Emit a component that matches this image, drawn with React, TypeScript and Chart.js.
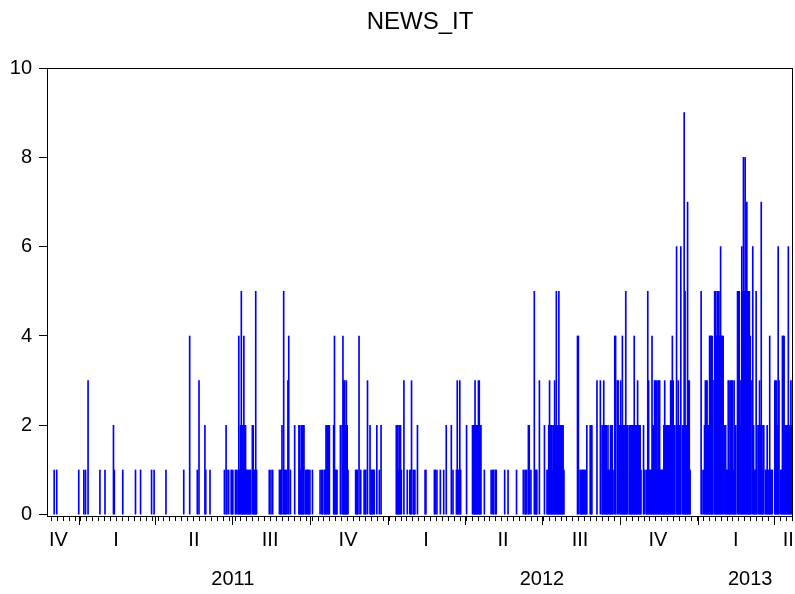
import React, { useEffect, useRef } from 'react';
import { Chart, registerables } from 'chart.js';

Chart.register(...registerables);

const FONT = "'Liberation Sans', Arial, Helvetica, sans-serif";

// Daily observations of NEWS_IT, one array per calendar quarter (first entry = segment start date)
const segmentStarts = [
  '2010-11-25', '2011-01-01', '2011-04-01', '2011-07-01', '2011-10-01', '2012-01-01',
  '2012-04-01', '2012-07-01', '2012-10-01', '2013-01-01', '2013-04-01',
];
const lastDay = '2013-04-23';

const news2010q4 = [
  0, 0, 0, 0, 0, 0, 0, 0, 1, 0,
  0, 1, 0, 0, 0, 0, 0, 0, 0, 0,
  0, 0, 0, 0, 0, 0, 0, 0, 0, 0,
  0, 0, 0, 0, 0, 0, 0,
];
const news2011q1 = [
  1, 0, 0, 0, 0, 0, 1, 0, 1, 0,
  0, 3, 0, 0, 0, 0, 0, 0, 0, 0,
  0, 0, 0, 0, 0, 1, 0, 0, 0, 0,
  0, 1, 0, 0, 0, 0, 0, 0, 0, 0,
  0, 2, 1, 0, 0, 0, 0, 0, 0, 0,
  0, 0, 1, 0, 0, 0, 0, 0, 0, 0,
  0, 0, 0, 0, 0, 0, 0, 1, 0, 0,
  0, 0, 0, 1, 0, 0, 0, 0, 0, 0,
  0, 0, 0, 0, 0, 0, 1, 0, 0, 1,
];
const news2011q2 = [
  0, 0, 0, 0, 0, 0, 0, 0, 0, 0,
  0, 0, 0, 1, 0, 0, 0, 0, 0, 0,
  0, 0, 0, 0, 0, 0, 0, 0, 0, 0,
  0, 0, 0, 0, 1, 0, 0, 0, 0, 0,
  0, 4, 0, 0, 0, 0, 0, 0, 0, 0,
  1, 0, 3, 0, 0, 0, 0, 0, 0, 2,
  1, 0, 0, 0, 0, 1, 0, 0, 0, 0,
  0, 0, 0, 0, 0, 0, 0, 0, 0, 0,
  0, 0, 1, 0, 2, 1, 0, 1, 0, 0,
  1,
];
const news2011q3 = [
  1, 1, 0, 0, 1, 1, 0, 1, 4, 1,
  2, 5, 2, 2, 4, 2, 2, 1, 1, 1,
  1, 1, 1, 0, 2, 2, 1, 1, 5, 1,
  0, 0, 0, 0, 0, 0, 0, 0, 0, 0,
  0, 0, 0, 0, 1, 0, 1, 0, 1, 0,
  0, 0, 0, 0, 0, 0, 1, 1, 1, 2,
  0, 5, 1, 1, 1, 0, 3, 4, 0, 1,
  0, 0, 0, 0, 2, 0, 0, 0, 0, 2,
  2, 1, 2, 2, 2, 2, 0, 1, 1, 1,
  1, 1,
];
const news2011q4 = [
  1, 0, 0, 1, 0, 0, 0, 0, 0, 0,
  0, 0, 1, 0, 1, 1, 0, 1, 1, 2,
  2, 2, 2, 2, 0, 0, 0, 0, 2, 4,
  1, 1, 1, 0, 0, 0, 2, 0, 2, 4,
  3, 3, 2, 3, 2, 1, 0, 0, 0, 0,
  0, 0, 0, 0, 1, 1, 1, 0, 4, 0,
  1, 0, 0, 0, 1, 1, 1, 0, 3, 0,
  0, 2, 1, 1, 1, 1, 1, 0, 0, 2,
  0, 0, 1, 0, 2, 0, 0, 0, 0, 0,
  0, 0,
];
const news2012q1 = [
  0, 0, 0, 0, 0, 0, 0, 0, 0, 0,
  2, 2, 2, 1, 2, 2, 1, 0, 0, 3,
  0, 0, 0, 1, 0, 0, 1, 1, 3, 0,
  1, 1, 1, 0, 0, 2, 0, 0, 0, 0,
  0, 0, 0, 0, 1, 1, 0, 0, 0, 0,
  0, 0, 0, 0, 0, 1, 1, 0, 1, 0,
  0, 0, 1, 0, 0, 0, 1, 0, 0, 2,
  0, 0, 0, 0, 0, 2, 0, 1, 0, 0,
  0, 1, 3, 1, 1, 3, 1, 0, 0, 0,
  0,
];
const news2012q2 = [
  0, 0, 2, 0, 0, 0, 0, 0, 0, 2,
  2, 2, 3, 2, 2, 2, 3, 3, 2, 2,
  0, 0, 0, 1, 0, 0, 0, 0, 0, 0,
  0, 1, 0, 1, 1, 0, 1, 1, 0, 0,
  0, 0, 0, 0, 0, 0, 0, 1, 0, 0,
  0, 1, 0, 0, 0, 0, 0, 0, 0, 0,
  0, 1, 0, 0, 0, 0, 0, 0, 0, 1,
  0, 1, 1, 1, 0, 2, 2, 0, 1, 0,
  0, 0, 5, 1, 1, 1, 0, 0, 3, 0,
  0,
];
const news2012q3 = [
  0, 0, 0, 2, 0, 0, 1, 1, 2, 3,
  2, 2, 1, 2, 2, 3, 2, 5, 2, 2,
  5, 2, 2, 2, 2, 2, 1, 0, 0, 0,
  0, 0, 0, 0, 0, 0, 0, 0, 0, 0,
  0, 0, 4, 4, 0, 1, 1, 1, 1, 1,
  1, 1, 1, 2, 0, 0, 0, 2, 2, 2,
  0, 0, 0, 0, 0, 3, 0, 0, 0, 3,
  0, 2, 2, 3, 2, 2, 2, 1, 2, 1,
  1, 2, 2, 2, 1, 0, 4, 4, 0, 3,
  3, 0,
];
const news2012q4 = [
  2, 3, 2, 4, 2, 2, 2, 5, 2, 2,
  0, 2, 1, 2, 2, 2, 2, 4, 2, 2,
  2, 3, 2, 2, 2, 1, 0, 0, 2, 1,
  0, 1, 1, 5, 3, 1, 1, 1, 4, 2,
  2, 3, 3, 3, 1, 3, 3, 3, 1, 1,
  1, 1, 2, 3, 2, 2, 2, 2, 2, 2,
  3, 3, 4, 3, 2, 2, 0, 6, 2, 3,
  2, 2, 6, 0, 2, 2, 9, 5, 2, 2,
  7, 3, 3, 1, 0, 0, 0, 0, 0, 0,
  0, 0,
];
const news2013q1 = [
  0, 0, 0, 0, 5, 1, 0, 1, 2, 3,
  3, 3, 2, 2, 4, 4, 4, 4, 3, 0,
  5, 5, 4, 5, 5, 5, 4, 6, 4, 4,
  4, 0, 2, 2, 1, 1, 3, 3, 1, 3,
  3, 3, 1, 3, 2, 2, 0, 5, 5, 5,
  2, 3, 6, 5, 8, 5, 8, 5, 7, 5,
  5, 5, 4, 3, 0, 6, 2, 1, 1, 5,
  2, 0, 2, 3, 2, 7, 1, 2, 2, 0,
  1, 1, 2, 1, 1, 4, 1, 1, 1, 0,
];
const news2013q2 = [
  0, 3, 3, 3, 2, 6, 3, 0, 1, 1,
  4, 4, 4, 2, 2, 2, 2, 6, 2, 2,
  3, 2, 3,
];

// Tick labels
const quarterLabels = ['IV', 'I', 'II', 'III', 'IV', 'I', 'II', 'III', 'IV', 'I', 'II'];
const quarterLabelDates = [
  '2010-12-08', '2011-02-14', '2011-05-17', '2011-08-15', '2011-11-15', '2012-02-15',
  '2012-05-16', '2012-08-15', '2012-11-15', '2013-02-15', '2013-04-18',
];
const yearLabels = ['2011', '2012', '2013'];
const yearLabelDates = ['2011-07-02', '2012-07-01', '2013-03-04'];
const yTicks = [0, 2, 4, 6, 8, 10];

const ORIGIN = Date.UTC(2010, 9, 1);
const toDay = (s: string) => {
  const [y, m, d] = s.split('-').map(Number);
  return Math.round((Date.UTC(y, m - 1, d) - ORIGIN) / 86400000);
};

const segments = [
  news2010q4, news2011q1, news2011q2, news2011q3, news2011q4, news2012q1,
  news2012q2, news2012q3, news2012q4, news2013q1, news2013q2,
];

export default function App() {
  const ref = useRef<HTMLCanvasElement | null>(null);

  useEffect(() => {
    if (!ref.current) return;
    const xMin = toDay(segmentStarts[0]) - 0.5;
    const xMax = toDay(lastDay) + 0.5;

    const points: { x: number; y: number }[] = [];
    segments.forEach((arr, k) => {
      const s = toDay(segmentStarts[k]);
      arr.forEach((v, i) => {
        if (v > 0 && s + i <= xMax) points.push({ x: s + i, y: v });
      });
    });

    // quarter boundaries and weekly (Monday) minor ticks
    const quarterDays: number[] = [];
    for (let y = 2010; y <= 2013; y++) {
      for (const m of [1, 4, 7, 10]) {
        const d = toDay(`${y}-${m}-1`);
        if (d >= xMin && d <= xMax) quarterDays.push(d);
      }
    }
    const weekDays: number[] = [];
    for (let d = 3; d <= xMax; d += 7) if (d >= xMin) weekDays.push(d);

    const framePlugin = {
      id: 'frameTicks',
      afterDraw(chart: any) {
        const { ctx, chartArea: a, scales } = chart;
        const xs = scales.x;
        const L = Math.round(a.left);
        const R = Math.round(a.right);
        const T = Math.round(a.top);
        const B = Math.round(a.bottom);
        ctx.save();
        ctx.strokeStyle = '#000';
        ctx.lineWidth = 1;
        ctx.strokeRect(L + 0.5, T + 0.5, R - L - 1, B - T);
        ctx.beginPath();
        const isQ = new Set(quarterDays);
        weekDays.forEach((d) => {
          if (isQ.has(d)) return;
          const px = Math.round(xs.getPixelForValue(d)) + 0.5;
          ctx.moveTo(px, B);
          ctx.lineTo(px, B + 5);
        });
        ctx.stroke();
        ctx.beginPath();
        quarterDays.forEach((d) => {
          const px = Math.round(xs.getPixelForValue(d)) + 0.5;
          ctx.moveTo(px, B);
          ctx.lineTo(px, B + 9);
        });
        ctx.stroke();
        ctx.restore();
      },
    };

    const noPad = (scale: any, h: number) => {
      scale.height = h;
      scale.paddingLeft = 0;
      scale.paddingRight = 0;
    };

    const chart = new Chart(ref.current, {
      type: 'bar',
      data: {
        datasets: [
          {
            data: points as any,
            backgroundColor: '#0000ff',
            borderWidth: 0,
            barThickness: 1,
          },
        ],
      },
      options: {
        animation: false,
        responsive: false,
        maintainAspectRatio: false,
        layout: { padding: { left: 0, right: 2, top: 0, bottom: 0 } },
        plugins: {
          legend: { display: false },
          tooltip: { enabled: false },
          title: {
            display: true,
            text: 'NEWS_IT',
            fullSize: false,
            color: '#000',
            font: { family: FONT, size: 24, weight: 'normal' },
            padding: { top: 8, bottom: 31.2 },
          },
        },
        scales: {
          x: {
            type: 'linear',
            position: 'bottom',
            weight: 0,
            min: xMin,
            max: xMax,
            offset: false,
            grid: { display: false, drawTicks: false },
            border: { display: false },
            afterBuildTicks: (scale: any) => {
              scale.ticks = quarterLabelDates.map((d) => ({ value: toDay(d) }));
            },
            afterFit: (scale: any) => noPad(scale, 40),
            ticks: {
              autoSkip: false,
              maxRotation: 0,
              padding: 12,
              color: '#000',
              font: { family: FONT, size: 20 },
              callback: (_v: any, i: number) => quarterLabels[i],
            },
          },
          xYear: {
            type: 'linear',
            position: 'bottom',
            weight: 1,
            min: xMin,
            max: xMax,
            offset: false,
            grid: { display: false, drawTicks: false },
            border: { display: false },
            afterBuildTicks: (scale: any) => {
              scale.ticks = yearLabelDates.map((d) => ({ value: toDay(d) }));
            },
            afterFit: (scale: any) => noPad(scale, 38),
            ticks: {
              autoSkip: false,
              maxRotation: 0,
              padding: 11,
              color: '#000',
              font: { family: FONT, size: 20 },
              callback: (_v: any, i: number) => yearLabels[i],
            },
          },
          y: {
            type: 'linear',
            min: -0.03,
            max: 10,
            grid: {
              drawOnChartArea: false,
              drawTicks: true,
              tickLength: 8,
              color: '#000',
              tickColor: '#000',
            },
            border: { display: false },
            afterBuildTicks: (scale: any) => {
              scale.ticks = yTicks.map((v) => ({ value: v }));
            },
            afterFit: (scale: any) => {
              scale.width = 47;
              scale.paddingTop = 0;
              scale.paddingBottom = 0;
            },
            ticks: {
              padding: 7,
              color: '#000',
              font: { family: FONT, size: 20 },
              callback: (v: any) => String(v),
            },
          },
        },
      } as any,
      plugins: [framePlugin],
    });

    return () => chart.destroy();
  }, []);

  return (
    <div style={{ position: 'fixed', left: 0, top: 0, width: 795, height: 594, background: '#fff' }}>
      <canvas ref={ref} width={795} height={594} />
    </div>
  );
}
